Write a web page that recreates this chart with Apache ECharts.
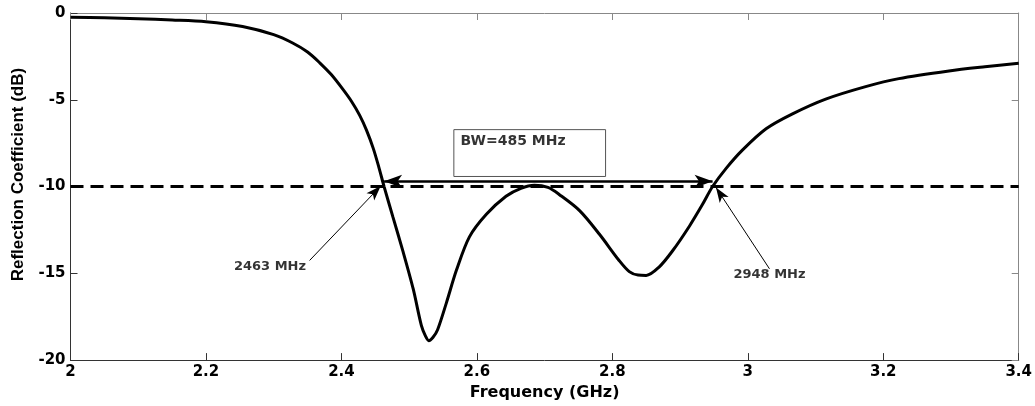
<!DOCTYPE html>
<html>
<head>
<meta charset="utf-8">
<script src="https://cdn.jsdelivr.net/npm/echarts@6/dist/echarts.min.js"></script>
<style>
  html, body { margin: 0; padding: 0; background: #fff; }
  #chart { width: 1035px; height: 406px; }
</style>
</head>
<body>
<div id="chart"></div>
<script>
// frequency (GHz) and reflection coefficient (dB)
var freq = [2.0, 2.05, 2.1, 2.15, 2.2, 2.254, 2.3, 2.328, 2.35, 2.368, 2.385, 2.402, 2.415, 2.427,
  2.437, 2.447, 2.455, 2.463, 2.476, 2.491, 2.506, 2.518, 2.524, 2.529, 2.535, 2.542, 2.555, 2.570,
  2.589, 2.614, 2.643, 2.665, 2.685, 2.705, 2.722, 2.752, 2.781, 2.810, 2.825, 2.838, 2.850, 2.869,
  2.889, 2.914, 2.933, 2.948, 2.968, 2.992, 3.027, 3.066, 3.115, 3.174, 3.223, 3.297, 3.35, 3.4];
var s11 = [-0.25, -0.28, -0.33, -0.40, -0.50, -0.78, -1.25, -1.73, -2.25, -2.87, -3.55, -4.39, -5.1, -5.9,
  -6.75, -7.8, -8.85, -10.0, -11.75, -13.75, -15.9, -18.0, -18.6, -18.88, -18.7, -18.25, -16.7, -14.8,
  -12.9, -11.6, -10.56, -10.1, -9.92, -10.05, -10.47, -11.4, -12.75, -14.26, -14.9, -15.1, -15.12, -14.64,
  -13.7, -12.27, -11.04, -10.0, -8.95, -7.9, -6.67, -5.81, -4.96, -4.24, -3.78, -3.34, -3.1, -2.9];

var threshold = -10;
var bandEdges = [2.463, 2.948];           // GHz
var bwText = 'BW=485 MHz';
var edgeText = ['2463 MHz', '2948 MHz'];

// annotation placement, in data units
var bwArrowY = -9.7;
var bwBox = [[2.566, -6.72], [2.790, -9.42]];
var bwTextAt = [2.576, -7.4];
var leaderFrom = [[2.353, -14.26], [3.032, -14.74]];
var leaderTo = [[2.458, -9.97], [2.953, -10.05]];
var edgeTextAt = [[2.2945, -14.64], [3.032, -15.1]];

var curve = [];
for (var i = 0; i < freq.length; i++) {
  curve.push([freq[i], s11[i]]);
}

var tickFont = { fontFamily: 'DejaVu Sans', fontWeight: 'bold', fontSize: 15, color: '#000' };

var option = {
  animation: false,
  backgroundColor: '#fff',
  grid: { left: 70.5, right: 15.5, top: 13, bottom: 41.5 },
  xAxis: [{
    type: 'value', min: 2, max: 3.4, interval: 0.2,
    name: 'Frequency (GHz)', nameLocation: 'middle', nameGap: 20,
    nameTextStyle: { fontFamily: 'DejaVu Sans', fontWeight: 'bold', fontSize: 16, color: '#000' },
    axisLine: { show: true, onZero: false, lineStyle: { color: '#333', width: 1 } },
    axisTick: { inside: true, length: 7, lineStyle: { color: '#333' } },
    axisLabel: Object.assign({ margin: 5 }, tickFont),
    splitLine: { show: false }
  }, {
    type: 'value', min: 2, max: 3.4, interval: 0.2, position: 'top',
    axisLine: { show: true, onZero: false, lineStyle: { color: '#888', width: 1 } },
    axisTick: { inside: true, length: 7, lineStyle: { color: '#888' } },
    axisLabel: { show: false },
    splitLine: { show: false }
  }],
  yAxis: [{
    type: 'value', min: -20, max: 0, interval: 5,
    name: 'Reflection Coefficient (dB)', nameLocation: 'middle', nameGap: 44, nameRotate: 90,
    nameTextStyle: {
      fontFamily: 'Liberation Sans', fontWeight: 'bold', fontSize: 17, color: '#000',
      padding: [0, 0, 0, 24]
    },
    axisLine: { show: true, onZero: false, lineStyle: { color: '#333', width: 1 } },
    axisTick: { inside: true, length: 7, lineStyle: { color: '#333' } },
    axisLabel: Object.assign({ margin: 5 }, tickFont),
    splitLine: { show: false }
  }, {
    type: 'value', min: -20, max: 0, interval: 5, position: 'right',
    axisLine: { show: true, onZero: false, lineStyle: { color: '#888', width: 1 } },
    axisTick: { inside: true, length: 7, lineStyle: { color: '#888' } },
    axisLabel: { show: false },
    splitLine: { show: false }
  }],
  series: [{
    name: 'S11',
    type: 'line',
    data: curve,
    smooth: 0.3,
    showSymbol: false,
    lineStyle: { color: '#000', width: 3 },
    z: 3
  }, {
    name: 'annotations',
    type: 'line',
    data: [],
    markLine: {
      silent: true,
      animation: false,
      symbol: ['none', 'none'],
      label: { show: false },
      emphasis: { disabled: true },
      data: [
        {
          yAxis: threshold,
          lineStyle: { type: [13, 7], color: '#000', width: 3 }
        },
        [
          { coord: [bandEdges[0], bwArrowY], symbol: 'arrow', symbolSize: [10, 18] },
          { coord: [bandEdges[1], bwArrowY], symbol: 'arrow', symbolSize: [10, 18],
            lineStyle: { type: 'solid', color: '#000', width: 2.5 } }
        ],
        [
          { coord: leaderFrom[0], symbol: 'none' },
          { coord: leaderTo[0], symbol: 'arrow', symbolSize: [8, 15],
            lineStyle: { type: 'solid', color: '#000', width: 1 } }
        ],
        [
          { coord: leaderFrom[1], symbol: 'none' },
          { coord: leaderTo[1], symbol: 'arrow', symbolSize: [8, 15],
            lineStyle: { type: 'solid', color: '#000', width: 1 } }
        ]
      ]
    },
    markArea: {
      silent: true,
      itemStyle: { color: 'rgba(255,255,255,0)', borderColor: '#555', borderWidth: 1 },
      label: { show: false },
      data: [[{ coord: bwBox[0] }, { coord: bwBox[1] }]]
    },
    z: 2
  }, {
    name: 'labels',
    type: 'scatter',
    symbolSize: 0,
    silent: true,
    data: [
      { value: bwTextAt, name: bwText, label: { position: 'right', distance: 0, fontSize: 14 } },
      { value: edgeTextAt[0], name: edgeText[0] },
      { value: edgeTextAt[1], name: edgeText[1] }
    ],
    label: {
      show: true,
      position: 'inside',
      formatter: '{b}',
      fontFamily: 'DejaVu Sans', fontWeight: 'bold', fontSize: 13, color: '#000'
    },
    z: 4
  }]
};

var chart = echarts.init(document.getElementById('chart'));
chart.setOption(option);
</script>
</body>
</html>
